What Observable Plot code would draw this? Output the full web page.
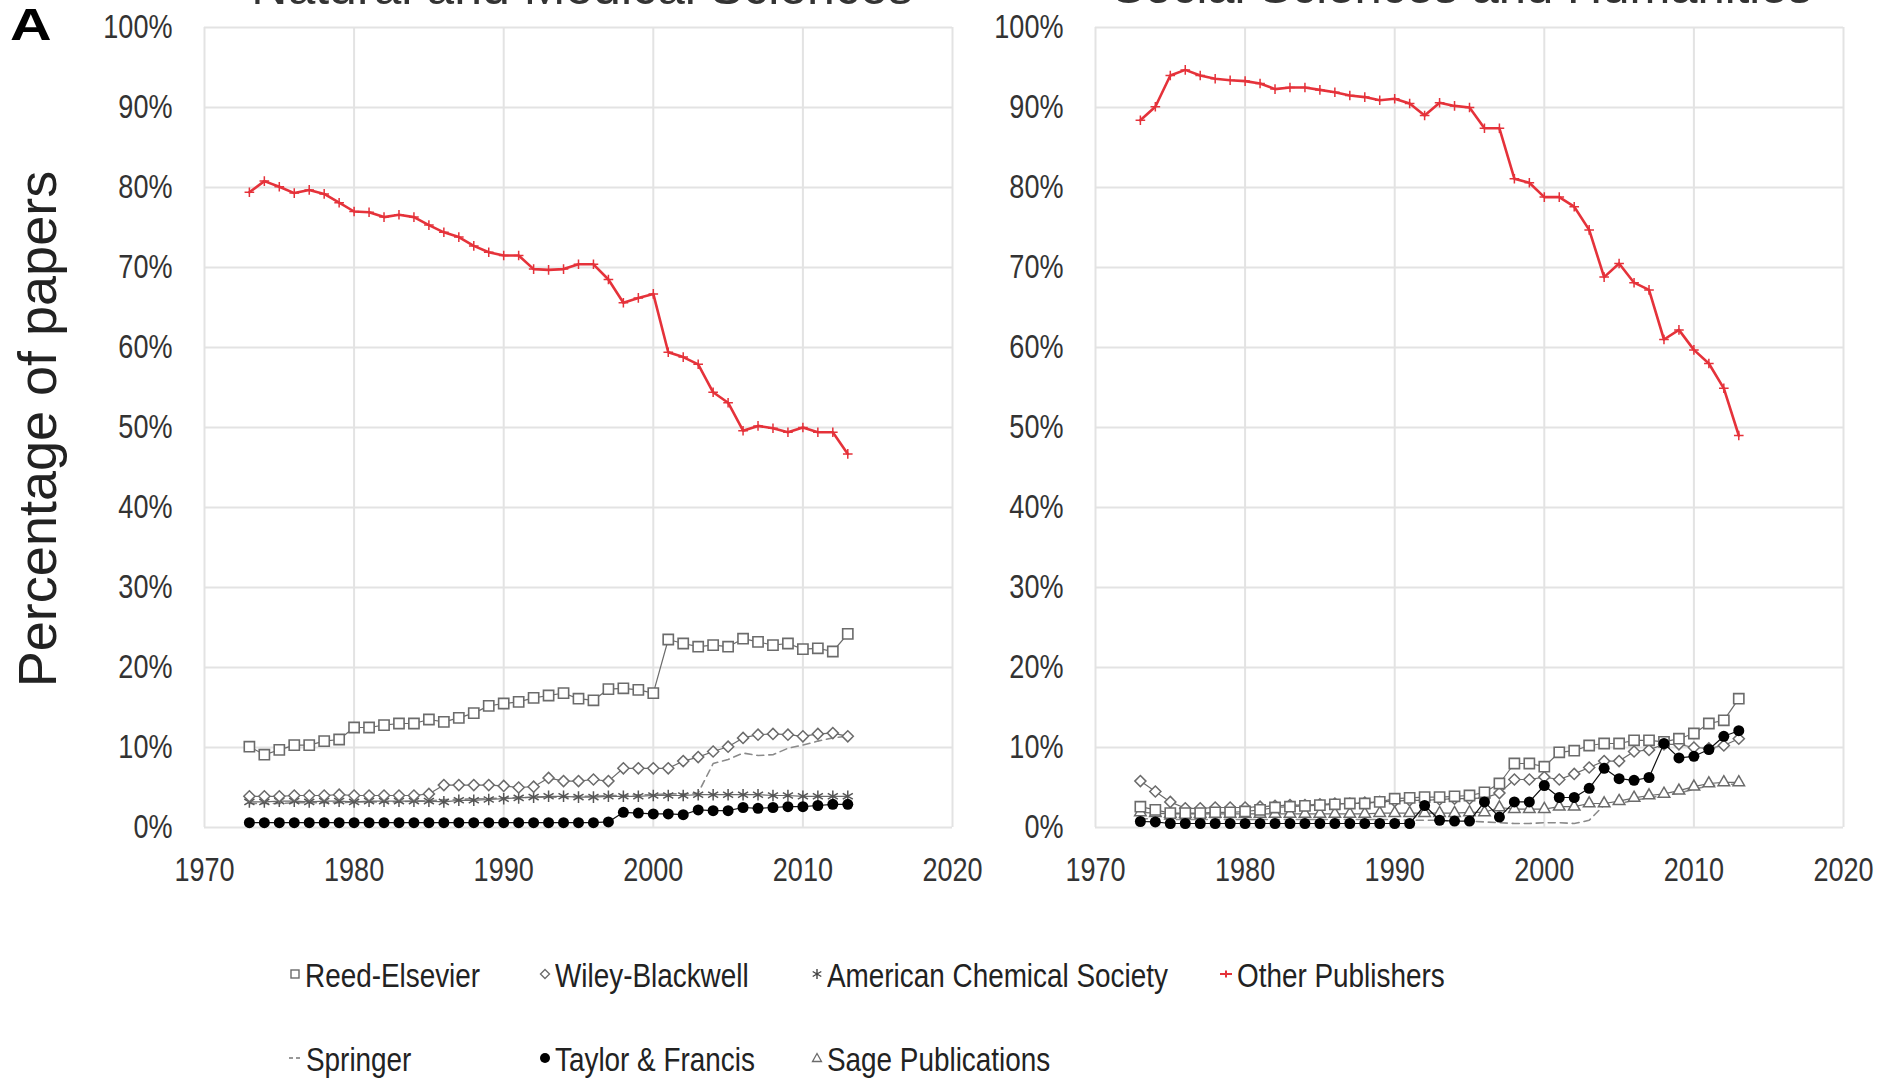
<!DOCTYPE html>
<html>
<head>
<meta charset="utf-8">
<script src="https://cdn.jsdelivr.net/npm/d3@7"></script>
<script src="https://cdn.jsdelivr.net/npm/@observablehq/plot@0.6"></script>
<style>
  html, body { margin: 0; padding: 0; background: #fff; }
  #page { position: relative; width: 1883px; height: 1081px; overflow: hidden; background: #fff; }
  .abs { position: absolute; white-space: nowrap; line-height: 1; }
  .title { font-family: "Liberation Sans", Arial, sans-serif; font-size: 50px; color: #333; transform: translateX(-50%); }
  .panel { position: absolute; top: 0; }
  .legend-item { position: absolute; display: flex; align-items: center; white-space: nowrap; line-height: 1; color: #222; }
  .legend-item span { display: inline-block; transform: scaleX(0.82); transform-origin: left center; margin-left: 4px; position: relative; top: 1px; }
</style>
</head>
<body>
<div id="page"></div>
<script>
// ---------------- DATA ----------------
const years = [1973,1974,1975,1976,1977,1978,1979,1980,1981,1982,
               1983,1984,1985,1986,1987,1988,1989,1990,1991,1992,
               1993,1994,1995,1996,1997,1998,1999,2000,2001,2002,
               2003,2004,2005,2006,2007,2008,2009,2010,2011,2012,2013];

const xTicks = [1970, 1980, 1990, 2000, 2010, 2020];
const yTicks = [0, 10, 20, 30, 40, 50, 60, 70, 80, 90, 100];

const panelTitles = ["Natural and Medical Sciences", "Social Sciences and Humanities"];
const seriesNames = ["Reed-Elsevier", "Wiley-Blackwell", "American Chemical Society", "Other Publishers",
                     "Springer", "Taylor & Francis", "Sage Publications"];

// Natural and Medical Sciences (% of papers)
const natReed = [10.1, 9.1, 9.7, 10.3, 10.3, 10.8, 11.0, 12.5, 12.5, 12.8,
                 13.0, 13.0, 13.5, 13.2, 13.7, 14.3, 15.2, 15.5, 15.7, 16.2,
                 16.5, 16.8, 16.1, 15.9, 17.3, 17.4, 17.2, 16.8, 23.5, 23.0,
                 22.6, 22.8, 22.6, 23.6, 23.2, 22.8, 23.0, 22.3, 22.4, 22.0, 24.2];
const natWiley = [3.9, 3.9, 3.9, 4.0, 4.0, 4.0, 4.1, 4.0, 4.0, 4.0,
                  4.0, 4.0, 4.2, 5.3, 5.3, 5.3, 5.3, 5.2, 5.0, 5.1,
                  6.2, 5.8, 5.8, 6.0, 5.8, 7.4, 7.4, 7.4, 7.4, 8.3,
                  8.8, 9.5, 10.1, 11.2, 11.6, 11.7, 11.6, 11.4, 11.7, 11.8, 11.4];
const natACS = [3.2, 3.2, 3.3, 3.3, 3.2, 3.3, 3.3, 3.2, 3.3, 3.3,
                3.3, 3.3, 3.3, 3.2, 3.4, 3.4, 3.5, 3.6, 3.7, 3.8,
                3.9, 3.9, 3.8, 3.8, 3.9, 3.9, 3.9, 4.0, 4.0, 4.0,
                4.1, 4.1, 4.1, 4.1, 4.1, 4.0, 4.0, 3.9, 3.9, 3.9, 3.9];
const natOther = [79.4, 80.8, 80.1, 79.3, 79.7, 79.2, 78.1, 77.0, 76.9, 76.3,
                  76.6, 76.3, 75.3, 74.4, 73.8, 72.7, 71.9, 71.5, 71.5, 69.8,
                  69.7, 69.8, 70.4, 70.4, 68.5, 65.6, 66.2, 66.7, 59.4, 58.8,
                  57.9, 54.4, 53.1, 49.6, 50.2, 49.9, 49.4, 50.0, 49.4, 49.4, 46.7];
const natSpringer = [3.0, 3.0, 3.0, 3.1, 3.1, 3.1, 3.1, 3.2, 3.2, 3.2,
                     3.2, 3.3, 3.3, 3.5, 3.5, 3.6, 3.6, 3.7, 3.7, 3.8,
                     3.8, 3.8, 3.9, 3.9, 4.0, 4.0, 4.1, 4.1, 4.2, 4.2,
                     4.3, 8.0, 8.5, 9.3, 9.0, 9.1, 9.9, 10.3, 10.8, 11.2, 11.4];
const natTF = [0.6, 0.6, 0.6, 0.6, 0.6, 0.6, 0.6, 0.6, 0.6, 0.6,
               0.6, 0.6, 0.6, 0.6, 0.6, 0.6, 0.6, 0.6, 0.6, 0.6,
               0.6, 0.6, 0.6, 0.6, 0.7, 1.9, 1.8, 1.7, 1.7, 1.6,
               2.2, 2.1, 2.1, 2.5, 2.4, 2.5, 2.6, 2.6, 2.75, 2.9, 2.9];
// Sage is not visible in the natural-sciences panel
const natSage = [null, null, null, null, null, null, null, null, null, null,
                 null, null, null, null, null, null, null, null, null, null,
                 null, null, null, null, null, null, null, null, null, null,
                 null, null, null, null, null, null, null, null, null, null, null];

// Social Sciences and Humanities (% of papers)
const socReed = [2.6, 2.2, 1.8, 1.8, 1.8, 1.9, 1.9, 2.0, 2.2, 2.5,
                 2.6, 2.7, 2.8, 2.9, 3.0, 3.0, 3.2, 3.6, 3.7, 3.8,
                 3.8, 3.9, 4.0, 4.4, 5.5, 8.0, 8.0, 7.6, 9.4, 9.6,
                 10.25, 10.5, 10.5, 10.9, 10.9, 10.7, 11.1, 11.75, 13.0, 13.4, 16.1];
const socWiley = [5.8, 4.5, 3.2, 2.4, 2.4, 2.5, 2.5, 2.5, 2.6, 2.7,
                  2.8, 2.8, 2.9, 3.0, 3.0, 3.1, 3.2, 3.3, 3.4, 3.4,
                  3.5, 3.6, 3.6, 3.7, 4.3, 6.0, 6.0, 6.3, 6.0, 6.7,
                  7.5, 8.3, 8.3, 9.5, 9.7, 10.4, 10.4, 10.0, 9.9, 10.25, 11.1];
// ACS is not visible in the social-sciences panel
const socACS = [null, null, null, null, null, null, null, null, null, null,
                null, null, null, null, null, null, null, null, null, null,
                null, null, null, null, null, null, null, null, null, null,
                null, null, null, null, null, null, null, null, null, null, null];
const socOther = [88.4, 90.1, 94.0, 94.7, 94.0, 93.6, 93.4, 93.3, 93.0, 92.3,
                  92.5, 92.5, 92.2, 91.9, 91.5, 91.3, 90.9, 91.1, 90.5, 89.0,
                  90.6, 90.2, 90.0, 87.4, 87.4, 81.1, 80.6, 78.8, 78.8, 77.6,
                  74.7, 68.8, 70.5, 68.1, 67.2, 61.0, 62.2, 59.7, 58.0, 54.9, 49.0];
const socSpringer = [1.1, 1.1, 1.0, 1.0, 1.0, 1.0, 1.0, 1.0, 1.0, 1.0,
                     1.0, 1.0, 1.0, 1.0, 1.0, 1.0, 1.0, 1.0, 0.9, 0.9,
                     0.9, 0.8, 0.8, 0.7, 0.6, 0.5, 0.5, 0.6, 0.6, 0.5,
                     0.9, 2.8, 3.0, 3.4, 3.7, 4.0, 4.3, 4.8, 5.2, 5.4, 5.4];
const socTF = [0.75, 0.7, 0.5, 0.5, 0.5, 0.5, 0.5, 0.5, 0.5, 0.5,
               0.5, 0.5, 0.5, 0.5, 0.5, 0.5, 0.5, 0.5, 0.5, 2.75,
               0.9, 0.8, 0.8, 3.2, 1.3, 3.2, 3.2, 5.25, 3.75, 3.75,
               4.9, 7.4, 6.1, 5.9, 6.25, 10.5, 8.7, 8.9, 9.75, 11.4, 12.1];
const socSage = [1.9, 1.8, 1.7, 1.7, 1.7, 1.7, 1.7, 1.7, 1.7, 1.7,
                 1.7, 1.7, 1.7, 1.7, 1.7, 1.7, 1.8, 1.8, 1.8, 1.8,
                 1.8, 1.8, 1.9, 1.9, 2.5, 2.3, 2.3, 2.3, 2.6, 2.6,
                 3.0, 3.0, 3.3, 3.7, 4.0, 4.2, 4.6, 5.1, 5.5, 5.65, 5.65];

// ---------------- STYLES ----------------
const FONT = '"Liberation Sans", Arial, sans-serif';
const NARROW_SCALE = 0.82;   // emulate Arial Narrow
const GRAY = "#6b6b6b";
const RED = "#e5323a";

function rowsOf(vals) {
  return years.map((y, i) => ({year: y, value: vals[i]})).filter(d => d.value != null);
}

function narrowTexts(svg) {
  svg.querySelectorAll("text").forEach(t => {
    let tr = t.getAttribute("transform") || "";
    const xs = t.getAttribute("x");
    if (xs != null && /^-?[\d.]+$/.test(xs.trim())) {
      tr += ` translate(${parseFloat(xs)},0)`;
      t.removeAttribute("x");
    }
    t.setAttribute("transform", (tr + ` scale(${NARROW_SCALE},1)`).trim());
  });
}

function panel(d) {
  const xy = {x: "year", y: "value"};
  const svg = Plot.plot({
    width: 960,
    height: 900,
    marginLeft: 204,
    marginRight: 8,
    marginTop: 27,
    marginBottom: 73,
    style: {fontFamily: FONT, fontSize: "33px", color: "#333", background: "transparent", overflow: "visible"},
    x: {domain: [1970, 2020], ticks: xTicks, tickFormat: d => String(d), tickSize: 0, tickPadding: 30, label: null},
    y: {domain: [0, 100], ticks: yTicks, tickFormat: d => d + "%", tickSize: 0, tickPadding: 32, label: null},
    marks: [
      Plot.gridX(xTicks, {stroke: "#e3e3e3", strokeOpacity: 1, strokeWidth: 2}),
      Plot.gridY(yTicks, {stroke: "#e3e3e3", strokeOpacity: 1, strokeWidth: 2}),
      // Springer
      Plot.line(rowsOf(d.springer), {...xy, stroke: "#8a8a8a", strokeWidth: 1.6, strokeDasharray: "7,5"}),
      // Sage
      Plot.line(rowsOf(d.sage), {...xy, stroke: GRAY, strokeWidth: 1.2}),
      Plot.dot(rowsOf(d.sage), {...xy, symbol: "triangle2", r: 5.5, stroke: GRAY, strokeWidth: 1.5, fill: "white"}),
      // ACS
      Plot.line(rowsOf(d.acs), {...xy, stroke: GRAY, strokeWidth: 1.2}),
      Plot.dot(rowsOf(d.acs), {...xy, symbol: "asterisk", r: 5.5, stroke: "#555", strokeWidth: 1.5}),
      // Wiley
      Plot.line(rowsOf(d.wiley), {...xy, stroke: GRAY, strokeWidth: 1.2}),
      Plot.dot(rowsOf(d.wiley), {...xy, symbol: "diamond2", r: 5, stroke: GRAY, strokeWidth: 1.5, fill: "white"}),
      // Reed-Elsevier
      Plot.line(rowsOf(d.reed), {...xy, stroke: GRAY, strokeWidth: 1.2}),
      Plot.dot(rowsOf(d.reed), {...xy, symbol: "square2", r: 6.5, stroke: GRAY, strokeWidth: 1.6, fill: "white"}),
      // Taylor & Francis
      Plot.line(rowsOf(d.tf), {...xy, stroke: "#111", strokeWidth: 1.2}),
      Plot.dot(rowsOf(d.tf), {...xy, symbol: "circle", r: 5.5, fill: "#000"}),
      // Other publishers
      Plot.line(rowsOf(d.other), {...xy, stroke: RED, strokeWidth: 2.6}),
      Plot.dot(rowsOf(d.other), {...xy, symbol: "plus", r: 3.2, stroke: RED, strokeWidth: 1.5})
    ]
  });
  narrowTexts(svg);
  return svg;
}

const page = document.getElementById("page");

const nat = {reed: natReed, wiley: natWiley, acs: natACS, other: natOther, springer: natSpringer, tf: natTF, sage: natSage};
const soc = {reed: socReed, wiley: socWiley, acs: socACS, other: socOther, springer: socSpringer, tf: socTF, sage: socSage};

const p1 = panel(nat); p1.classList.add("panel"); p1.style.left = "0px"; page.appendChild(p1);
const p2 = panel(soc); p2.classList.add("panel"); p2.style.left = "891px"; page.appendChild(p2);

// ---------------- TEXT ----------------
function addDiv(text, css, cls) {
  const el = document.createElement("div");
  el.className = "abs" + (cls ? " " + cls : "");
  el.textContent = text;
  Object.assign(el.style, css);
  page.appendChild(el);
  return el;
}
// Panel titles (cut off at the top, as in the source figure)
addDiv(panelTitles[0], {left: "582px", top: "-38px"}, "title");
addDiv(panelTitles[1], {left: "1462px", top: "-38px", fontSize: "49px"}, "title");
// Panel letter
addDiv("A", {left: "10px", top: "2px", fontFamily: FONT, fontWeight: "bold", fontSize: "45px", color: "#000",
             transform: "scaleX(1.28)", transformOrigin: "left top"});
// Y label
addDiv("Percentage of papers", {left: "37px", top: "429px", fontFamily: FONT, fontSize: "54px", color: "#222", transform: "translate(-50%,-50%) rotate(-90deg)"});

// ---------------- LEGEND ----------------
const markerSvg = {
  "Reed-Elsevier": `<svg width="12" height="14" viewBox="-6 -7 12 14"><rect x="-4" y="-4" width="8" height="8" fill="white" stroke="${GRAY}" stroke-width="1.4"/></svg>`,
  "Wiley-Blackwell": `<svg width="12" height="14" viewBox="-6 -7 12 14"><path d="M0,-4.5L4.5,0L0,4.5L-4.5,0Z" fill="white" stroke="${GRAY}" stroke-width="1.4"/></svg>`,
  "American Chemical Society": `<svg width="12" height="14" viewBox="-6 -7 12 14"><path d="M0,-5V5M-4.3,-2.5L4.3,2.5M-4.3,2.5L4.3,-2.5" stroke="#444" stroke-width="1.4"/></svg>`,
  "Other Publishers": `<svg width="14" height="14" viewBox="-7 -7 14 14"><path d="M-6,0H6M0,-3.5V3.5" stroke="${RED}" stroke-width="2"/></svg>`,
  "Springer": `<svg width="13" height="14" viewBox="-6.5 -7 13 14"><path d="M-6.5,0H-2.5M0.5,0H4.5" stroke="#777" stroke-width="1.6"/></svg>`,
  "Taylor & Francis": `<svg width="12" height="14" viewBox="-6 -7 12 14"><circle r="5" fill="#000"/></svg>`,
  "Sage Publications": `<svg width="12" height="14" viewBox="-6 -7 12 14"><path d="M0,-4.5L4.5,3.5H-4.5Z" fill="white" stroke="${GRAY}" stroke-width="1.3"/></svg>`
};
const legendRows = [
  ["Reed-Elsevier", "Wiley-Blackwell", "American Chemical Society", "Other Publishers"],
  ["Springer", "Taylor & Francis", "Sage Publications"]
];
const legendColX = [289, 539, 811, 1219];
const legendRowY = [974, 1058];
legendRows.forEach((row, ri) => {
  row.forEach((name, ci) => {
    const item = document.createElement("div");
    item.className = "legend-item";
    item.style.left = legendColX[ci] + "px";
    item.style.top = (legendRowY[ri] - 20) + "px";
    item.style.height = "40px";
    item.style.fontFamily = FONT;
    item.style.fontSize = "34px";
    item.innerHTML = markerSvg[name] + `<span>${name.replace(/&/g, "&amp;")}</span>`;
    page.appendChild(item);
  });
});
</script>
</body>
</html>
